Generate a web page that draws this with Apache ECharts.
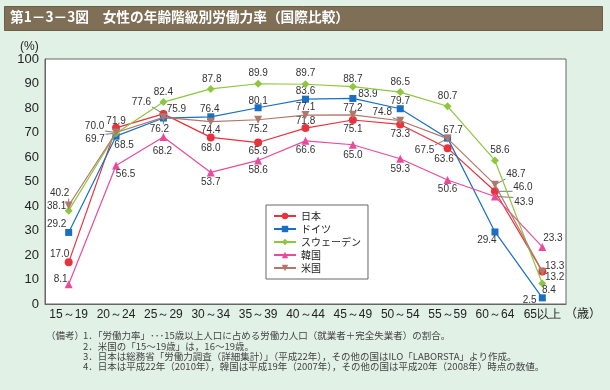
<!DOCTYPE html>
<html>
<head>
<meta charset="utf-8">
<script src="https://cdn.jsdelivr.net/npm/echarts@6/dist/echarts.min.js"></script>
<style>
html,body{margin:0;padding:0;background:#e2f1e6;}
#c{width:610px;height:390px;}
</style>
</head>
<body>
<div id="c"></div>
<script>
// ---- data ----
const categories = ['15～19','20～24','25～29','30～34','35～39','40～44','45～49','50～54','55～59','60～64','65以上'];
const yTicks = [0,10,20,30,40,50,60,70,80,90,100];
const seriesNames = ['日本','ドイツ','スウェーデン','韓国','米国'];
const japan   = [17.0,71.9,77.6,68.0,65.9,71.8,75.1,73.3,63.6,46.0,13.3];
const germany = [29.2,68.5,75.9,76.4,80.1,83.6,83.9,79.7,67.7,29.4,2.5];
const sweden  = [38.1,69.7,82.4,87.8,89.9,89.7,88.7,86.5,80.7,58.6,8.4];
const korea   = [8.1,56.5,68.2,53.7,58.6,66.6,65.0,59.3,50.6,43.9,23.3];
const usa     = [40.2,70.0,76.2,74.4,75.2,77.1,77.2,74.8,67.5,48.7,13.2];

// ---- label placement (style, not data): [dx, dy, leaderLine] ----
const offJapan   = [[-9,-8],[0,-7],[-22,-12,1],[0,11],[0,9],[0,-6.5],[0,9],[0,10],[-3.6,11],[28,-3.6,1],[12.3,-4.7]];
const offGermany = [[-12,-8],[8,9.5],[13,-9,1],[-1,-8],[0,-7],[0,-7.5],[15,-4.4],[0,-7],[5.5,-7.4],[-8,8],[-12.7,2.8]];
const offSweden  = [[-12,-4],[-21,6,1],[0,-10],[1,-9.6],[0,-10.4],[0,-11],[0,-7.4],[0,-10],[0,-9.6],[5,-10],[6.6,6.6]];
const offKorea   = [[-8,-5],[9.5,8.5],[-1,14],[0,10],[0,10],[0,9.2],[0,10],[0,10.6],[0,9.3],[29,6,1],[10.6,-8.6]];
const offUsa     = [[-9,-12,1],[-21.5,-6.5,1],[-4,12,1],[0,8.5],[0,9.5],[0,-7.5],[0,-7],[-18,-8,1],[-23,11.4,1],[21,-10.7,1],[12.3,5.6]];

const colors = ['#e8323c','#1a6fc4','#8dc63f','#ea4a9b','#b0786a'];
const symbols = ['circle','rect','diamond','triangle','triangle'];
const symSizes = [8,7,8,8,8];
const rotates = [0,0,0,0,180];
const allData = [japan,germany,sweden,korea,usa];
const allOff = [offJapan,offGermany,offSweden,offKorea,offUsa];

function buildSeries(i){
  return {
    name: seriesNames[i],
    type: 'line',
    data: allData[i],
    symbol: symbols[i],
    symbolSize: symSizes[i],
    symbolRotate: rotates[i],
    lineStyle: {width:1.2, color: colors[i]},
    itemStyle: {color: colors[i]},
    label: {
      show: true, position: 'inside',
      formatter: p => p.value.toFixed(1),
      fontSize: 10, color: '#333', fontFamily: 'Liberation Sans'
    },
    labelLayout: function(p){
      const o = allOff[i][p.dataIndex];
      return {dx:o[0], dy:o[1]};
    },
    z: 2 + i
  };
}

const chart = echarts.init(document.getElementById('c'), null, {renderer:'canvas'});
const foot = [
  '1．「労働力率」･･･15歳以上人口に占める労働力人口（就業者＋完全失業者）の割合。',
  '2．米国の「15～19歳」は，16～19歳。',
  '3．日本は総務省「労働力調査（詳細集計）」（平成22年），その他の国はILO「LABORSTA」より作成。',
  '4．日本は平成22年（2010年），韓国は平成19年（2007年），その他の国は平成20年（2008年）時点の数値。'
];
const graphics = [
  {type:'rect', left:4, top:6, shape:{width:598, height:24}, style:{fill:'#7f6f57', stroke:'#6c5e49', lineWidth:1}},
  {type:'text', left:10, top:10, style:{text:'第1－3－3図　女性の年齢階級別労働力率（国際比較）', fill:'#fff', font:'bold 13.7px "Noto Sans CJK JP"'}},
  {type:'text', left:20, top:41, style:{text:'(%)', fill:'#222', font:'12px "Liberation Sans"'}},
  {type:'text', left:565, top:307, style:{text:'（歳）', fill:'#222', font:'12px "Noto Sans CJK JP"'}},
  {type:'text', left:46, top:331, style:{text:'（備考）', fill:'#444', font:'9.5px "Noto Sans CJK JP"'}}
];
foot.forEach((t,k)=>graphics.push({type:'text', left:83, top:331+k*10.2, style:{text:t, fill:'#444', font:'9.5px "Noto Sans CJK JP"'}}));

const option = {
  backgroundColor: '#e2f1e6',
  animation: false,
  color: colors,
  grid: {left:45, right:44, top:59, bottom:86, show:true, backgroundColor:'#fff', borderColor:'#666', borderWidth:1},
  legend: {
    orient:'vertical', left:266, top:205,
    backgroundColor:'#fff', borderColor:'#666', borderWidth:1,
    padding:[5,7,5,7], itemWidth:22, itemHeight:8, itemGap:1,
    textStyle:{fontSize:10, color:'#222', fontFamily:'Noto Sans CJK JP', lineHeight:12},
    data: seriesNames
  },
  xAxis: {
    type:'category', data: categories, boundaryGap:true,
    axisLine:{lineStyle:{color:'#666'}},
    axisTick:{alignWithLabel:true, inside:true, length:4, lineStyle:{color:'#666'}},
    axisLabel:{color:'#222', fontSize:12, margin:5, fontFamily:'Liberation Sans', interval:0}
  },
  yAxis: {
    type:'value', min: yTicks[0], max: yTicks[yTicks.length-1], interval: 10,
    splitLine:{show:false},
    axisLine:{show:true, lineStyle:{color:'#666'}},
    axisTick:{show:false},
    axisLabel:{color:'#222', fontSize:13, margin:6, fontFamily:'Liberation Sans'}
  },
  graphic: graphics,
  series: [0,1,2,3,4].map(buildSeries)
};
chart.setOption(option);

// leader lines from points to moved labels, positioned through the chart's own scales
const guides = [];
allData.forEach((arr,i)=>{
  arr.forEach((v,k)=>{
    const o = allOff[i][k];
    if (!o[2]) return;
    const p = chart.convertToPixel({seriesIndex:i}, [k, v]);
    const cx = p[0]+o[0], cy = p[1]+o[1];
    const hw = 10.5, hh = 5;
    const ex = Math.max(cx-hw, Math.min(p[0], cx+hw));
    const ey = Math.max(cy-hh, Math.min(p[1], cy+hh));
    guides.push({type:'line', z:1, silent:true,
      shape:{x1:p[0], y1:p[1], x2:ex, y2:ey},
      style:{stroke:'#555', lineWidth:0.8}});
  });
});
chart.setOption({graphic: graphics.concat(guides)});
</script>
</body>
</html>
